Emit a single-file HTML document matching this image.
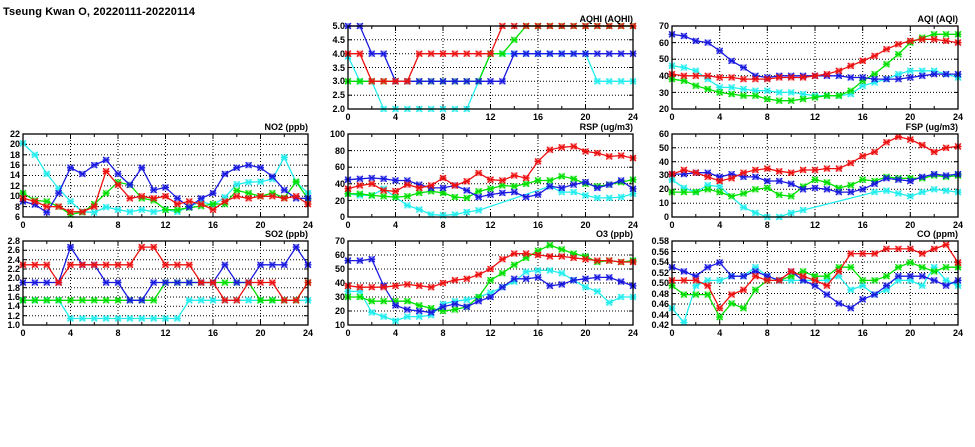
<!DOCTYPE html>
<html><head><meta charset="utf-8"><style>
html,body{margin:0;padding:0;background:#fff;}
svg{display:block;}
text{font-family:"Liberation Sans",sans-serif;font-size:9px;font-weight:bold;fill:#000;}
.yl{text-anchor:end;}
.xl{text-anchor:middle;}
.tl{text-anchor:end;}
</style></head><body>
<svg id="s" width="975" height="447" viewBox="0 0 975 447" xmlns="http://www.w3.org/2000/svg">
<text x="3" y="15" style="font-size:11px" textLength="192">Tseung Kwan O, 20220111-20220114</text>
<g id="g"></g>
<!-- NO2 -->
<text class="tl" x="308" y="130">NO2 (ppb)</text>
<text class="yl" x="20" y="220">6</text><text class="yl" x="20" y="210">8</text><text class="yl" x="20" y="199">10</text><text class="yl" x="20" y="189">12</text><text class="yl" x="20" y="178">14</text><text class="yl" x="20" y="168">16</text><text class="yl" x="20" y="158">18</text><text class="yl" x="20" y="147">20</text><text class="yl" x="20" y="137">22</text>
<text class="xl" x="23" y="228">0</text><text class="xl" x="70.5" y="228">4</text><text class="xl" x="118" y="228">8</text><text class="xl" x="165.5" y="228">12</text><text class="xl" x="213" y="228">16</text><text class="xl" x="260.5" y="228">20</text><text class="xl" x="308" y="228">24</text>
<!-- SO2 -->
<text class="tl" x="308" y="237">SO2 (ppb)</text>
<text class="yl" x="20" y="328">1.0</text><text class="yl" x="20" y="319">1.2</text><text class="yl" x="20" y="309">1.4</text><text class="yl" x="20" y="300">1.6</text><text class="yl" x="20" y="291">1.8</text><text class="yl" x="20" y="281">2.0</text><text class="yl" x="20" y="272">2.2</text><text class="yl" x="20" y="263">2.4</text><text class="yl" x="20" y="253">2.6</text><text class="yl" x="20" y="244">2.8</text>
<text class="xl" x="23" y="336">0</text><text class="xl" x="70.5" y="336">4</text><text class="xl" x="118" y="336">8</text><text class="xl" x="165.5" y="336">12</text><text class="xl" x="213" y="336">16</text><text class="xl" x="260.5" y="336">20</text><text class="xl" x="308" y="336">24</text>
<!-- AQHI -->
<text class="tl" x="633" y="22">AQHI (AQHI)</text>
<text class="yl" x="345" y="112">2.0</text><text class="yl" x="345" y="98">2.5</text><text class="yl" x="345" y="84">3.0</text><text class="yl" x="345" y="71">3.5</text><text class="yl" x="345" y="57">4.0</text><text class="yl" x="345" y="43">4.5</text><text class="yl" x="345" y="29">5.0</text>
<text class="xl" x="348" y="120">0</text><text class="xl" x="395.5" y="120">4</text><text class="xl" x="443" y="120">8</text><text class="xl" x="490.5" y="120">12</text><text class="xl" x="538" y="120">16</text><text class="xl" x="585.5" y="120">20</text><text class="xl" x="633" y="120">24</text>
<!-- RSP -->
<text class="tl" x="633" y="130">RSP (ug/m3)</text>
<text class="yl" x="345" y="220">0</text><text class="yl" x="345" y="204">20</text><text class="yl" x="345" y="187">40</text><text class="yl" x="345" y="170">60</text><text class="yl" x="345" y="154">80</text><text class="yl" x="345" y="137">100</text>
<text class="xl" x="348" y="228">0</text><text class="xl" x="395.5" y="228">4</text><text class="xl" x="443" y="228">8</text><text class="xl" x="490.5" y="228">12</text><text class="xl" x="538" y="228">16</text><text class="xl" x="585.5" y="228">20</text><text class="xl" x="633" y="228">24</text>
<!-- O3 -->
<text class="tl" x="633" y="237">O3 (ppb)</text>
<text class="yl" x="345" y="328">10</text><text class="yl" x="345" y="314">20</text><text class="yl" x="345" y="300">30</text><text class="yl" x="345" y="286">40</text><text class="yl" x="345" y="272">50</text><text class="yl" x="345" y="258">60</text><text class="yl" x="345" y="244">70</text>
<text class="xl" x="348" y="336">0</text><text class="xl" x="395.5" y="336">4</text><text class="xl" x="443" y="336">8</text><text class="xl" x="490.5" y="336">12</text><text class="xl" x="538" y="336">16</text><text class="xl" x="585.5" y="336">20</text><text class="xl" x="633" y="336">24</text>
<!-- AQI -->
<text class="tl" x="958" y="22">AQI (AQI)</text>
<text class="yl" x="669" y="112">20</text><text class="yl" x="669" y="96">30</text><text class="yl" x="669" y="79">40</text><text class="yl" x="669" y="62">50</text><text class="yl" x="669" y="46">60</text><text class="yl" x="669" y="29">70</text>
<text class="xl" x="672" y="120">0</text><text class="xl" x="719.7" y="120">4</text><text class="xl" x="767.3" y="120">8</text><text class="xl" x="815" y="120">12</text><text class="xl" x="862.7" y="120">16</text><text class="xl" x="910.3" y="120">20</text><text class="xl" x="958" y="120">24</text>
<!-- FSP -->
<text class="tl" x="958" y="130">FSP (ug/m3)</text>
<text class="yl" x="669" y="220">0</text><text class="yl" x="669" y="206">10</text><text class="yl" x="669" y="192">20</text><text class="yl" x="669" y="178">30</text><text class="yl" x="669" y="165">40</text><text class="yl" x="669" y="151">50</text><text class="yl" x="669" y="137">60</text>
<text class="xl" x="672" y="228">0</text><text class="xl" x="719.7" y="228">4</text><text class="xl" x="767.3" y="228">8</text><text class="xl" x="815" y="228">12</text><text class="xl" x="862.7" y="228">16</text><text class="xl" x="910.3" y="228">20</text><text class="xl" x="958" y="228">24</text>
<!-- CO -->
<text class="tl" x="958" y="237">CO (ppm)</text>
<text class="yl" x="669" y="328">0.42</text><text class="yl" x="669" y="318">0.44</text><text class="yl" x="669" y="307">0.46</text><text class="yl" x="669" y="297">0.48</text><text class="yl" x="669" y="286">0.50</text><text class="yl" x="669" y="276">0.52</text><text class="yl" x="669" y="265">0.54</text><text class="yl" x="669" y="255">0.56</text><text class="yl" x="669" y="244">0.58</text>
<text class="xl" x="672" y="336">0</text><text class="xl" x="719.7" y="336">4</text><text class="xl" x="767.3" y="336">8</text><text class="xl" x="815" y="336">12</text><text class="xl" x="862.7" y="336">16</text><text class="xl" x="910.3" y="336">20</text><text class="xl" x="958" y="336">24</text>
</svg>
<script>
var N=null;
var C=['#22eeee','#00e000','#1a1ae0','#ee1111'];
var P=[
{x:[23,308],y:[134,217],r:[6,22],st:2,d:[
[20.2,18,14.3,11.5,9,7,6.9,7.9,7.4,7,7.4,7,7.4,7,8,9,8.3,9.8,12.3,12.7,12.8,13.3,17.5,12.7,10.6],
[10.6,9.2,9,8,6.5,6.9,8.5,10.6,12.7,12.2,9.6,9.2,7.4,7.4,7.8,8.1,8.5,8.5,11.1,10.6,10,10.6,9.7,12.8,9.5],
[9,8.4,6.9,10.6,15.5,14.3,16,17,14.3,12.2,15.5,11.2,11.7,9.6,7.9,9.6,10.6,14.3,15.5,16,15.5,13.8,11.2,9.6,9.6],
[9.6,9,8,8,7,7,8,14.8,12.2,9.6,10,9.6,10,8.5,9,8.5,7.4,9,10,9.6,10,10,9.6,10,8.5]]},
{x:[23,308],y:[241,325],r:[1,2.8],st:0.2,d:[
[1.53,1.53,1.53,1.53,1.14,1.14,1.14,1.14,1.14,1.14,1.14,1.14,1.14,1.14,1.53,1.53,1.53,1.53,1.53,1.53,1.53,1.53,1.53,1.53,1.53],
[1.53,1.53,1.53,1.53,1.53,1.53,1.53,1.53,1.53,1.53,1.53,1.53,1.91,1.91,1.91,1.91,1.91,1.91,1.91,1.91,1.53,1.53,1.53,1.53,1.91],
[1.91,1.91,1.91,1.91,2.67,2.29,2.29,1.91,1.91,1.53,1.53,1.91,1.91,1.91,1.91,1.91,1.91,2.29,1.91,1.91,2.29,2.29,2.29,2.67,2.29],
[2.29,2.29,2.29,1.91,2.29,2.29,2.29,2.29,2.29,2.29,2.67,2.67,2.29,2.29,2.29,1.91,1.91,1.53,1.53,1.91,1.91,1.91,1.53,1.53,1.91]]},
{x:[348,633],y:[26,109],r:[2,5],st:0.5,d:[
[3.9,3,3,2,2,2,2,2,2,2,2,3,4,4,4,4,4,4,4,4,4,3,3,3,3],
[3,3,3,3,3,3,3,3,3,3,3,3,4,4,4.5,5,5,5,5,5,5,5,5,5,5],
[5,5,4,4,3,3,3,3,3,3,3,3,3,3,4,4,4,4,4,4,4,4,4,4,4],
[4,4,3,3,3,3,4,4,4,4,4,4,4,5,5,5,5,5,5,5,5,5,5,5,5]]},
{x:[348,633],y:[134,217],r:[0,100],st:20,d:[
[28,26,26,34,24,14,9,3,2,3,6,8,N,N,N,N,N,37,30,30,26,23,23,24,28],
[28,28,26,25,24,25,29,31,29,24,23,31,34,38,37,40,44,44,49,46,40,37,39,42,45],
[45,46,47,46,44,44,39,35,35,38,32,24,27,29,30,24,27,37,35,39,42,35,39,44,34],
[34,38,40,32,31,39,35,38,47,38,43,53,45,44,50,47,67,81,84,85,79,77,73,74,71]]},
{x:[348,633],y:[241,325],r:[10,70],st:10,d:[
[34,34,19,16,13,16,16,17,25,27,28,30,33,37,41,48,49,49,47,42,37,34,26,30,30],
[30,30,27,27,27,27,24,22,20,21,23,30,42,47,53,58,63,67,64,61,59,55,56,55,56],
[56,56,57,38,24,21,20,19,23,25,23,27,30,37,43,43,44,38,39,42,43,44,44,41,38],
[38,37,37,37,38,39,38,37,40,42,43,46,50,57,61,61,60,59,59,58,57,56,56,55,55]]},
{x:[672,958],y:[26,109],r:[20,70],st:10,d:[
[46,45,43,38,33,33,32,31,31,30,30,29,28,28,28,29,34,36,38,41,43,43,43,41,39],
[38,37,34,32,30,29,28,28,26,25,25,26,27,28,28,31,37,41,47,53,60,63,65,65,65],
[65,64,61,60,55,49,45,40,39,40,40,40,40,40,40,39,39,38,38,38,39,40,41,41,41],
[41,40,40,40,39,39,38,38,38,39,39,39,40,41,43,46,49,52,56,59,61,62,62,61,60]]},
{x:[672,958],y:[134,217],r:[0,60],st:10,d:[
[27,21,18,23,22,N,7,3,0,0,3,5,N,N,N,N,N,18,19,17,15,18,20,19,18],
[18,18,18,20,18,15,17,20,21,16,15,22,27,25,21,23,27,26,29,28,28,28,30,29,30],
[31,31,32,32,29,31,29,29,26,26,24,20,21,20,18,18,20,24,28,27,26,29,31,30,31],
[31,34,32,29,26,28,32,34,35,33,32,34,34,35,35,39,44,47,54,58,56,52,47,50,51]]},
{x:[672,958],y:[241,325],r:[0.42,0.58],st:0.02,d:[
[.452,.425,.495,.505,.505,.513,.513,.530,.513,.505,.505,.505,.505,.505,.513,.487,.495,.478,.487,.505,.505,.495,.530,.505,.495],
[.495,.478,.478,.478,.435,.461,.452,.487,.505,.505,.513,.522,.513,.513,.530,.530,.505,.505,.513,.530,.539,.530,.522,.530,.530],
[.530,.522,.513,.530,.539,.513,.513,.522,.513,.505,.522,.505,.495,.478,.461,.452,.469,.478,.495,.513,.513,.513,.505,.495,.505],
[.505,.505,.505,.495,.452,.478,.487,.513,.505,.505,.522,.513,.505,.495,.522,.556,.556,.556,.565,.565,.565,.556,.565,.573,.539]]}
];
var h='';
P.forEach(function(p){
 var x0=p.x[0],x1=p.x[1],y0=p.y[0],y1=p.y[1],lo=p.r[0],hi=p.r[1];
 function X(i){return x0+(x1-x0)*i/24;}
 function Y(v){return y1-(y1-y0)*(v-lo)/(hi-lo);}
 var n=Math.round((hi-lo)/p.st);
 for(var k=1;k<n;k++){var yy=Y(lo+k*p.st).toFixed(1);h+='<line x1="'+x0+'" x2="'+x1+'" y1="'+yy+'" y2="'+yy+'" stroke="#000" stroke-width="1" stroke-dasharray="1,2"/>';
  h+='<line x1="'+x0+'" x2="'+(x0+4)+'" y1="'+yy+'" y2="'+yy+'" stroke="#000"/><line x1="'+(x1-4)+'" x2="'+x1+'" y1="'+yy+'" y2="'+yy+'" stroke="#000"/>';}
 for(var k=1;k<6;k++){var xx=X(k*4).toFixed(1);h+='<line y1="'+y0+'" y2="'+y1+'" x1="'+xx+'" x2="'+xx+'" stroke="#000" stroke-width="1" stroke-dasharray="1,2"/>';}
 for(var k=1;k<12;k++){var xx=X(k*2).toFixed(1),L=(k%2)?3:5;h+='<line y1="'+y0+'" y2="'+(y0+L)+'" x1="'+xx+'" x2="'+xx+'" stroke="#000"/><line y1="'+(y1-L)+'" y2="'+y1+'" x1="'+xx+'" x2="'+xx+'" stroke="#000"/>';}
 p.d.forEach(function(s,si){
  var pts=[];s.forEach(function(v,i){if(v!==N)pts.push(X(i).toFixed(1)+','+Y(v).toFixed(1));});
  h+='<polyline fill="none" stroke="'+C[si]+'" stroke-width="1.3" points="'+pts.join(' ')+'"/>';
  s.forEach(function(v,i){if(v===N)return;var a=X(i),b=Y(v);
   h+='<rect x="'+(a-3)+'" y="'+(b-3)+'" width="6" height="6" fill="'+C[si]+'" opacity="0.45"/>';
   h+='<path d="M'+(a-3)+' '+(b-3)+'L'+(a+3)+' '+(b+3)+'M'+(a-3)+' '+(b+3)+'L'+(a+3)+' '+(b-3)+'M'+(a-3.5)+' '+b+'L'+(a+3.5)+' '+b+'" stroke="'+C[si]+'" stroke-width="1.2"/>';});
 });
 h+='<rect x="'+x0+'" y="'+y0+'" width="'+(x1-x0)+'" height="'+(y1-y0)+'" fill="none" stroke="#000" stroke-width="1.3"/>';
});
document.getElementById('g').innerHTML=h;
</script>
</body></html>
